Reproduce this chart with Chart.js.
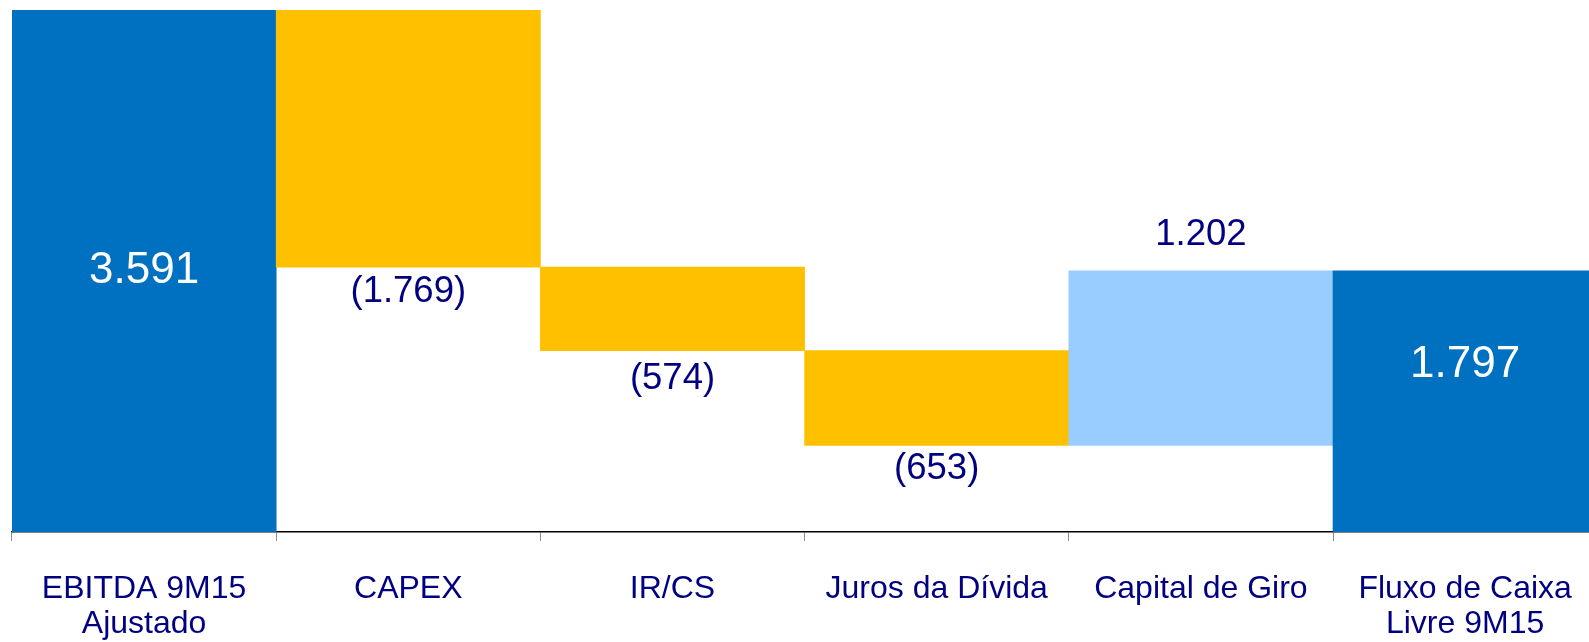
<!DOCTYPE html>
<html>
<head>
<meta charset="utf-8">
<script src="https://cdn.jsdelivr.net/npm/chart.js@4.4.1/dist/chart.umd.min.js"></script>
<style>
  html, body { margin: 0; padding: 0; background: #ffffff; overflow: hidden; }
  #wrap { position: absolute; left: 0; top: 0; width: 1602px; height: 642px; }
</style>
</head>
<body>
<div id="wrap"><canvas id="c" width="1602" height="642"></canvas></div>
<script>
// ---- data ----
const categories = [
  ['EBITDA 9M15', 'Ajustado'],
  'CAPEX',
  'IR/CS',
  'Juros da Dívida',
  'Capital de Giro',
  ['Fluxo de Caixa', 'Livre 9M15']
];
const values = [3591, -1769, -574, -653, 1202, 1797];
const kinds = ['total', 'delta', 'delta', 'delta', 'delta', 'total'];
const axisMax = 3591;

// ---- build floating bars ----
function buildRanges(vals, kds) {
  const out = [];
  let run = 0;
  vals.forEach((v, i) => {
    if (kds[i] === 'total') { out.push([0, v]); run = v; }
    else { out.push([run, run + v]); run += v; }
  });
  return out;
}
const ranges = buildRanges(values, kinds);

const COLOR_TOTAL = '#0070C0';
const COLOR_NEG = '#FFC000';
const COLOR_POS = '#99CCFF';
const NAVY = '#000080';
const colors = values.map((v, i) => kinds[i] === 'total' ? COLOR_TOTAL : (v < 0 ? COLOR_NEG : COLOR_POS));

function fmt(v) {
  const s = String(Math.abs(v)).replace(/\B(?=(\d{3})+(?!\d))/g, '.');
  return v < 0 ? '(' + s + ')' : s;
}

// label placement (style only): mode and pixel offset
const placement = [
  { mode: 'middle', off: 0 },
  { mode: 'below', off: 24.5 },
  { mode: 'below', off: 28.5 },
  { mode: 'below', off: 23.5 },
  { mode: 'above', off: 36 },
  { mode: 'upper', off: 94 }
];

const labelPlugin = {
  id: 'wfLabels',
  afterDatasetsDraw(chart) {
    const ctx = chart.ctx;
    const meta = chart.getDatasetMeta(0);
    ctx.save();
    ctx.textAlign = 'center';
    ctx.textBaseline = 'middle';
    meta.data.forEach((el, i) => {
      const top = Math.min(el.y, el.base);
      const bot = Math.max(el.y, el.base);
      let y, color, size;
      const p = placement[i];
      if (p.mode === 'middle') { y = (top + bot) / 2 + p.off; color = '#ffffff'; size = 44; }
      else if (p.mode === 'upper') { y = top + p.off; color = '#ffffff'; size = 44; }
      else if (p.mode === 'below') { y = bot + p.off; color = NAVY; size = 36.5; }
      else { y = top - p.off; color = NAVY; size = 36.5; }
      ctx.font = size + 'px "Liberation Sans", Arial, sans-serif';
      ctx.fillStyle = color;
      ctx.fillText(fmt(values[i]), el.x, y);
    });
    ctx.restore();
  }
};

new Chart(document.getElementById('c'), {
  type: 'bar',
  data: {
    labels: categories,
    datasets: [{
      data: ranges,
      backgroundColor: colors,
      borderWidth: 0,
      barPercentage: 1.0,
      categoryPercentage: 1.0
    }]
  },
  options: {
    responsive: false,
    animation: false,
    events: [],
    layout: { padding: { left: 12, right: 2, top: 10, bottom: 0 } },
    plugins: { legend: { display: false }, tooltip: { enabled: false } },
    scales: {
      x: {
        offset: true,
        grid: {
          display: true,
          offset: true,
          drawOnChartArea: false,
          drawTicks: true,
          tickLength: 9,
          color: '#8c8c8c',
          lineWidth: 1
        },
        border: { display: true, color: '#000000', width: 1.5 },
        ticks: {
          color: NAVY,
          padding: 30,
          maxRotation: 0,
          minRotation: 0,
          autoSkip: false,
          font: { family: '"Liberation Sans", Arial, sans-serif', size: 32, lineHeight: 1.11 }
        },
        afterFit(scale) { scale.height = 110; }
      },
      y: {
        display: false,
        min: 0,
        max: axisMax
      }
    }
  },
  plugins: [labelPlugin]
});
</script>
</body>
</html>
